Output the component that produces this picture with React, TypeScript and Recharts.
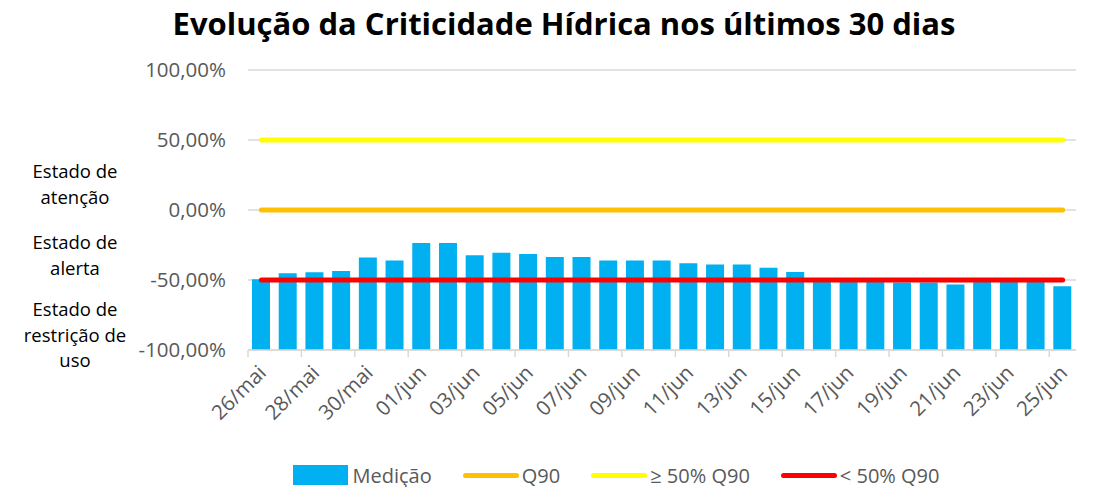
import { ComposedChart, Bar, Line, XAxis, YAxis, CartesianGrid, Legend } from 'recharts';

const dias = [
  '26/mai', '27/mai', '28/mai', '29/mai', '30/mai', '31/mai',
  '01/jun', '02/jun', '03/jun', '04/jun', '05/jun', '06/jun', '07/jun', '08/jun', '09/jun', '10/jun',
  '11/jun', '12/jun', '13/jun', '14/jun', '15/jun', '16/jun', '17/jun', '18/jun', '19/jun', '20/jun',
  '21/jun', '22/jun', '23/jun', '24/jun', '25/jun',
];
const medicao = [
  -49.5, -45.2, -44.5, -43.6, -34.0, -36.0, -23.6, -23.6, -32.4, -30.5, -31.4,
  -33.6, -33.6, -36.0, -36.0, -36.0, -38.1, -39.0, -39.0, -41.2, -44.3,
  -51.2, -51.5, -51.3, -51.8, -51.8, -53.3, -51.2, -51.4, -51.3, -54.5,
];
const q90 = 0;
const acima50 = 50;
const abaixo50 = -50;
const yTicks = [-100, -50, 0, 50, 100];

const data = dias.map((dia, i) => ({
  dia,
  medicao: medicao[i],
  q90,
  acima50,
  abaixo50,
}));

const FONT = "'Open Sans', sans-serif";
const GRAY = '#595959';
const BAND = 828 / 31;

const fmt = (v: number) => `${v.toFixed(2).replace('.', ',')}%`;

const XTick = (props: any) => {
  const { x, y, payload } = props;
  return (
    <g>
      <line x1={x - BAND / 2} x2={x - BAND / 2} y1={350} y2={357} stroke="#d9d9d9" strokeWidth={1.5} />
      <text
        transform={`translate(${x + 6},${y + 22}) rotate(-45)`}
        textAnchor="end"
        fill={GRAY}
        fontSize={20.5}
        fontFamily={FONT}
      >
        {payload.value}
      </text>
    </g>
  );
};

const legendItems = [
  { label: 'Medição', color: '#00B0F0', kind: 'rect' },
  { label: 'Q90', color: '#FFC000', kind: 'line' },
  { label: '≥ 50% Q90', color: '#FFFF00', kind: 'line' },
  { label: '< 50% Q90', color: '#FF0000', kind: 'line' },
];

const LegendContent = () => (
  <div style={{ display: 'flex', justifyContent: 'center', alignItems: 'center', height: 30, fontFamily: FONT, fontSize: 20, color: GRAY, paddingLeft: 70, paddingTop: 3 }}>
    {legendItems.map((it) => (
      <div key={it.label} style={{ display: 'flex', alignItems: 'center', marginRight: 31 }}>
        {it.kind === 'rect' ? (
          <div style={{ width: 55, height: 20, background: it.color, marginRight: 4 }} />
        ) : (
          <div style={{ width: 56, height: 5, borderRadius: 3, background: it.color, marginRight: 3 }} />
        )}
        <span>{it.label}</span>
      </div>
    ))}
  </div>
);

const sideLabel = (lines: string[], top: number) => (
  <div style={{ position: 'absolute', left: 0, width: 150, top, textAlign: 'center', fontFamily: FONT, fontSize: 18.5, lineHeight: '25.5px', color: '#000' }}>
    {lines.map((l) => (
      <div key={l}>{l}</div>
    ))}
  </div>
);

export default function App() {
  return (
    <div style={{ position: 'absolute', left: 0, top: 0, width: 1094, height: 487, background: '#fff' }}>
      <div style={{ position: 'absolute', left: 0, top: 2, width: 1128, textAlign: 'center', fontFamily: FONT, fontWeight: 700, fontSize: 31, color: '#000' }}>
        Evolução da Criticidade Hídrica nos últimos 30 dias
      </div>
      {sideLabel(['Estado de', 'atenção'], 158)}
      {sideLabel(['Estado de', 'alerta'], 229)}
      {sideLabel(['Estado de', 'restrição de', 'uso'], 296)}
      <ComposedChart
        width={1094}
        height={487}
        data={data}
        margin={{ top: 70, right: 18, left: 118, bottom: 0 }}
        barCategoryGap={0}
      >
        <CartesianGrid vertical={false} stroke="#d9d9d9" strokeWidth={1.5} />
        <XAxis
          dataKey="dia"
          interval={1}
          tickLine={false}
          tickSize={0}
          axisLine={{ stroke: '#d9d9d9', strokeWidth: 1.5 }}
          height={107}
          tick={<XTick />}
        />
        <YAxis
          domain={[-100, 100]}
          ticks={yTicks}
          tickFormatter={fmt}
          width={130}
          axisLine={false}
          tickLine={false}
          tickSize={0}
          tickMargin={22}
          tick={{ fill: GRAY, fontSize: 20.5, fontFamily: FONT }}
        />
        <Legend verticalAlign="bottom" height={30} content={<LegendContent />} />
        <Bar dataKey={(d: any) => [-100, d.medicao]} name="Medição" fill="#00B0F0" barSize={18} isAnimationActive={false} />
        <Line dataKey="q90" name="Q90" stroke="#FFC000" strokeWidth={5} strokeLinecap="round" dot={false} activeDot={false} isAnimationActive={false} />
        <Line dataKey="acima50" name="≥ 50% Q90" stroke="#FFFF00" strokeWidth={5} strokeLinecap="round" dot={false} activeDot={false} isAnimationActive={false} />
        <Line dataKey="abaixo50" name="< 50% Q90" stroke="#FF0000" strokeWidth={5} strokeLinecap="round" dot={false} activeDot={false} isAnimationActive={false} />
      </ComposedChart>
    </div>
  );
}
